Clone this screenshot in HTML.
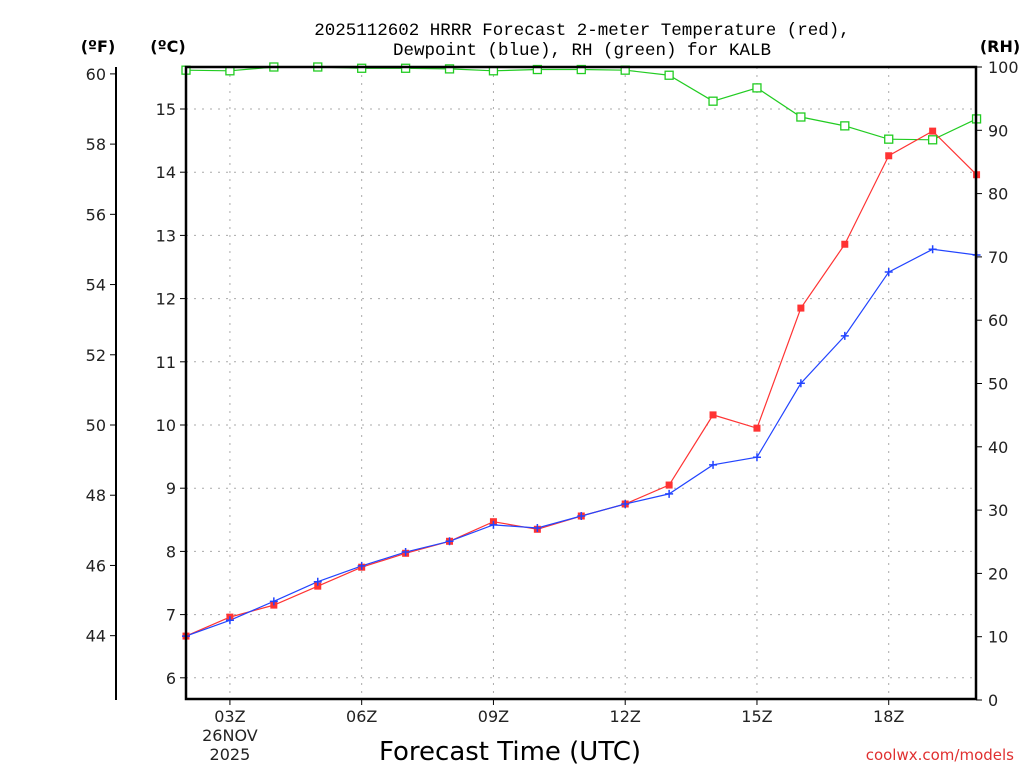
<!DOCTYPE html>
<html><head><meta charset="utf-8"><style>
body{margin:0;background:#fff}
svg{display:block;font-family:"DejaVu Sans","Liberation Sans",sans-serif}
</style></head><body>
<svg id="c" width="1024" height="768">
<text x="582" y="35" font-size="17.5" font-family="Liberation Mono, monospace" text-anchor="middle">2025112602 HRRR Forecast 2-meter Temperature (red),</text>
<text x="582" y="55" font-size="17.5" font-family="Liberation Mono, monospace" text-anchor="middle">Dewpoint (blue), RH (green) for KALB</text>
<text x="98" y="52" font-size="16" font-weight="bold" text-anchor="middle">(ºF)</text>
<text x="168" y="52" font-size="16" font-weight="bold" text-anchor="middle">(ºC)</text>
<text x="1000" y="52" font-size="16" font-weight="bold" text-anchor="middle">(RH)</text>
<text x="510" y="760" font-size="26" text-anchor="middle">Forecast Time (UTC)</text>
<text x="1014" y="760" font-size="15" fill="#e03030" text-anchor="end">coolwx.com/models</text>
<g id="grid"></g><g id="axes"></g><g id="series"></g>
<rect x="186" y="67" width="790" height="632" fill="none" stroke="#000" stroke-width="2.5"/>
</svg>
<script>
const hours=[2,3,4,5,6,7,8,9,10,11,12,13,14,15,16,17,18,19,20];
const tempC=[6.66,6.96,7.15,7.45,7.75,7.97,8.16,8.47,8.35,8.56,8.75,9.05,10.16,9.95,11.85,12.86,14.26,14.65,13.96];
const dewC=[6.66,6.91,7.21,7.52,7.77,7.99,8.16,8.42,8.37,8.56,8.75,8.91,9.37,9.49,10.66,11.41,12.42,12.78,12.69];
const rh=[99.5,99.4,100,100,99.8,99.8,99.7,99.4,99.6,99.6,99.5,98.7,94.6,96.7,92.1,90.7,88.6,88.5,91.8];
const cTicks=[6,7,8,9,10,11,12,13,14,15];
const fTicks=[44,46,48,50,52,54,56,58,60];
const rhTicks=[0,10,20,30,40,50,60,70,80,90,100];
const xTicks=["03Z","06Z","09Z","12Z","15Z","18Z"];
const xTickHours=[3,6,9,12,15,18];
const NS="http://www.w3.org/2000/svg";
const X=h=>186+(h-2)*43.92;
const YC=c=>109+(15-c)*63.2;
const YF=f=>YC((f-32)/1.8);
const YR=r=>700-r*6.33;
function mk(tag,at,parent,txt){const e=document.createElementNS(NS,tag);for(const k in at)e.setAttribute(k,at[k]);if(txt!==undefined)e.textContent=txt;document.getElementById(parent).appendChild(e);return e;}
cTicks.forEach(c=>{const y=YC(c);
 let g=mk('line',{x1:186,x2:976,y1:y,y2:y,stroke:'#aaa','stroke-dasharray':'2,6'},'grid');
 
 
 mk('line',{x1:180,x2:186,y1:y,y2:y,stroke:'#000'},'axes');
 let t=mk('text',{x:176,y:y+6,'font-size':16,'text-anchor':'end',fill:'#222'},'axes',String(c));
 
 
});
mk('line',{x1:116,x2:116,y1:67,y2:700,stroke:'#000','stroke-width':2},'axes');
fTicks.forEach(f=>{const y=YF(f);
 mk('line',{x1:110,x2:116,y1:y,y2:y,stroke:'#000'},'axes');
 let t=mk('text',{x:106,y:y+6,'font-size':16,'text-anchor':'end',fill:'#222'},'axes',String(f));
 
 
});
rhTicks.forEach(r=>{const y=YR(r);
 mk('line',{x1:976,x2:982,y1:y,y2:y,stroke:'#000'},'axes');
 let t=mk('text',{x:988,y:y+6,'font-size':16,fill:'#222'},'axes',String(r));
 
 
});
xTickHours.forEach((h,i)=>{const x=X(h);
 let g=mk('line',{x1:x,x2:x,y1:67,y2:699,stroke:'#aaa','stroke-dasharray':'2,6'},'grid');
 
 
 mk('line',{x1:x,x2:x,y1:699,y2:705,stroke:'#000'},'axes');
 let t=mk('text',{x:x,y:722,'font-size':16,'text-anchor':'middle',fill:'#222'},'axes',xTicks[i]);
 
 
});
let d1=mk('text',{x:X(3),y:741,'font-size':16,'text-anchor':'middle',fill:'#222'},'axes','26NOV');


let d2=mk('text',{x:X(3),y:760,'font-size':16,'text-anchor':'middle',fill:'#222'},'axes','2025');


function line(vals,yf,col,name){
 const pts=hours.map((h,i)=>X(h)+','+yf(vals[i])).join(' ');
 const p=mk('polyline',{points:pts,fill:'none',stroke:col,'stroke-width':1.2},'series');
 
 
}
line(rh,YR,'#22cc22','rh-line');
line(tempC,YC,'#ff3333','temperature-line');
line(dewC,YC,'#2244ff','dewpoint-line');
hours.forEach((h,i)=>{
 const x=X(h);
 let g=mk('rect',{x:x-4,y:YR(rh[i])-4,width:8,height:8,fill:'#fff',stroke:'#22cc22','stroke-width':1.3},'series');
 
 
 let r=mk('rect',{x:x-3.5,y:YC(tempC[i])-3.5,width:7,height:7,fill:'#ff3333'},'series');
 
 
 const y=YC(dewC[i]);
 let b=mk('path',{d:`M${x-4},${y}H${x+4}M${x},${y-4}V${y+4}`,stroke:'#2244ff','stroke-width':1.5},'series');
 
 
});
</script>
</body></html>
